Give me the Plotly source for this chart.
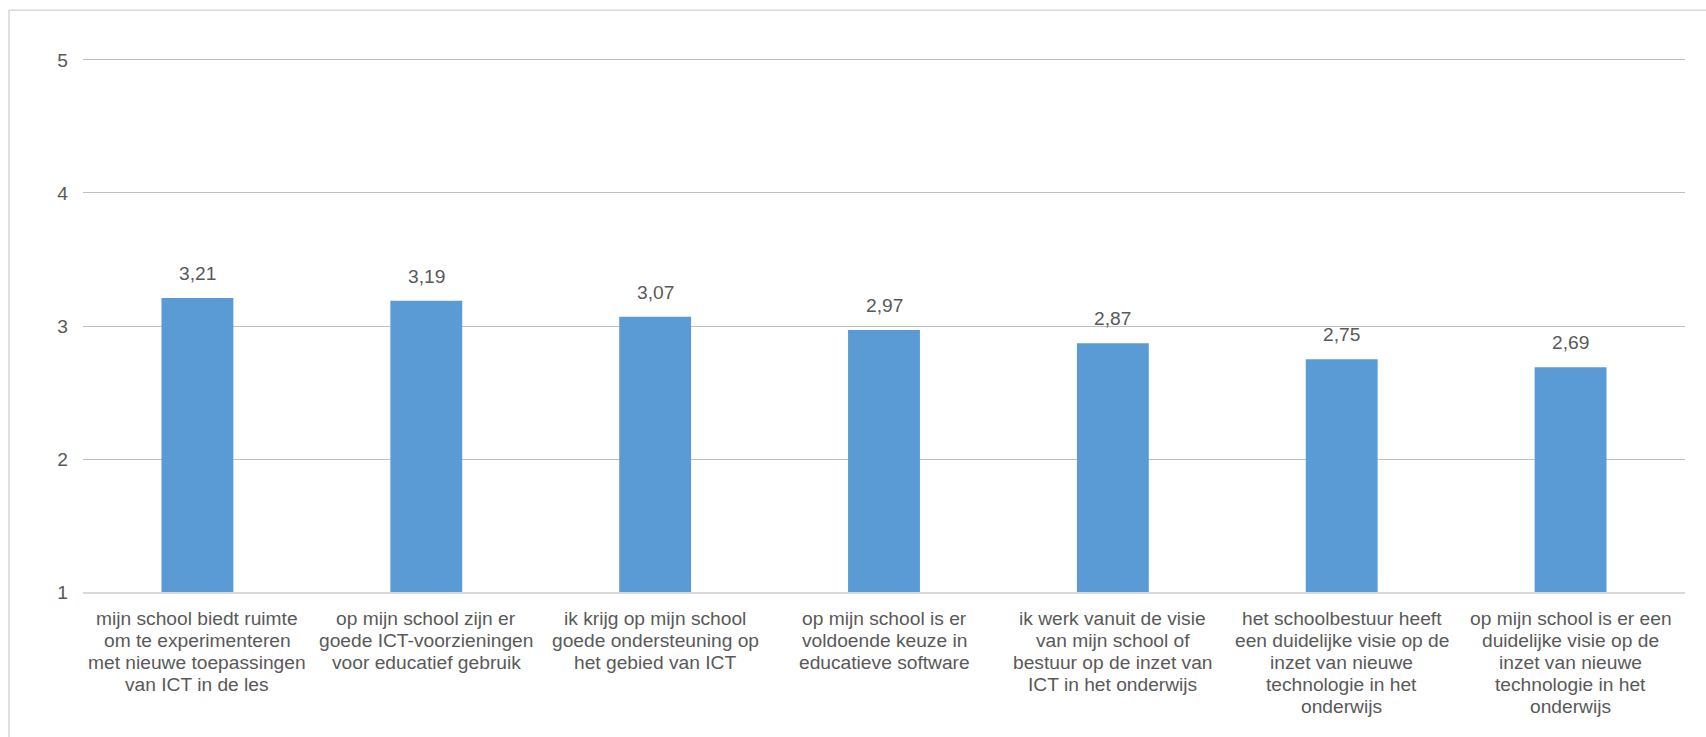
import plotly.graph_objects as go

categories = [
    "mijn school biedt ruimte<br>om te experimenteren<br>met nieuwe toepassingen<br>van ICT in de les",
    "op mijn school zijn er<br>goede ICT-voorzieningen<br>voor educatief gebruik",
    "ik krijg op mijn school<br>goede ondersteuning op<br>het gebied van ICT",
    "op mijn school is er<br>voldoende keuze in<br>educatieve software",
    "ik werk vanuit de visie<br>van mijn school of<br>bestuur op de inzet van<br>ICT in het onderwijs",
    "het schoolbestuur heeft<br>een duidelijke visie op de<br>inzet van nieuwe<br>technologie in het<br>onderwijs",
    "op mijn school is er een<br>duidelijke visie op de<br>inzet van nieuwe<br>technologie in het<br>onderwijs",
]
scores = [3.21, 3.19, 3.07, 2.97, 2.87, 2.75, 2.69]
y_ticks = [1, 2, 3, 4, 5]

FONT = "Liberation Sans, Arial, sans-serif"
TEXT = "#595959"
FS = 19.2
LINE_H = 22.2

Y_MIN, Y_MAX = 1, 5.03

W, H = 1706, 737
L, R, B = 83, 21, 145
axis_px = 532.5                      # pixel span from 1 to 5
ph = axis_px * (Y_MAX - Y_MIN) / 4
T = H - B - ph
pw = W - L - R

xs = list(range(len(categories)))

fig = go.Figure(
    go.Bar(
        x=xs,
        y=scores,
        base=0,
        marker=dict(color="#5B9BD5", line=dict(width=0)),
        width=0.314,
        hoverinfo="skip",
    )
)

# value labels above the bars
for x, v in zip(xs, scores):
    fig.add_annotation(
        x=x, y=v, text=f"{v:.2f}".replace(".", ","),
        showarrow=False, yanchor="bottom", yshift=12,
        font=dict(family=FONT, size=FS, color=TEXT),
    )

# category labels, one line per annotation for tighter line spacing
for x, label in zip(xs, categories):
    for i, line in enumerate(label.split("<br>")):
        fig.add_annotation(
            x=x, y=0, yref="paper", text=line,
            showarrow=False, yanchor="middle", xanchor="center",
            yshift=-(26 + i * LINE_H),
            font=dict(family=FONT, size=FS, color=TEXT),
        )

# outer chart frame
fx = (9 - L) / pw
fy = (H - B - 9.5) / ph
frame = dict(type="line", xref="paper", yref="paper",
             line=dict(color="#d0d0d0", width=1.3))
fig.add_shape(**frame, x0=fx, x1=fx, y0=fy, y1=-B / ph - 0.01)
fig.add_shape(**frame, x0=fx, x1=(W - L) / pw + 0.01, y0=fy, y1=fy)

fig.update_layout(
    width=W, height=H,
    margin=dict(l=L, r=R, t=T, b=B, pad=0),
    paper_bgcolor="white", plot_bgcolor="white",
    showlegend=False,
    font=dict(family=FONT, size=FS, color=TEXT),
    xaxis=dict(
        range=[-0.5, len(categories) - 0.5],
        showgrid=False, zeroline=False, showticklabels=False,
        showline=True, linecolor="#d9d9d9", linewidth=1.5,
        ticks="",
    ),
    yaxis=dict(
        range=[Y_MIN, Y_MAX], tickvals=y_ticks,
        showgrid=True, gridcolor="#c0c0c0", gridwidth=1.3,
        zeroline=False, showline=False, ticks="",
        tickfont=dict(family=FONT, size=FS, color=TEXT),
        ticklabelstandoff=14,
    ),
)

fig.write_html("out.html")
